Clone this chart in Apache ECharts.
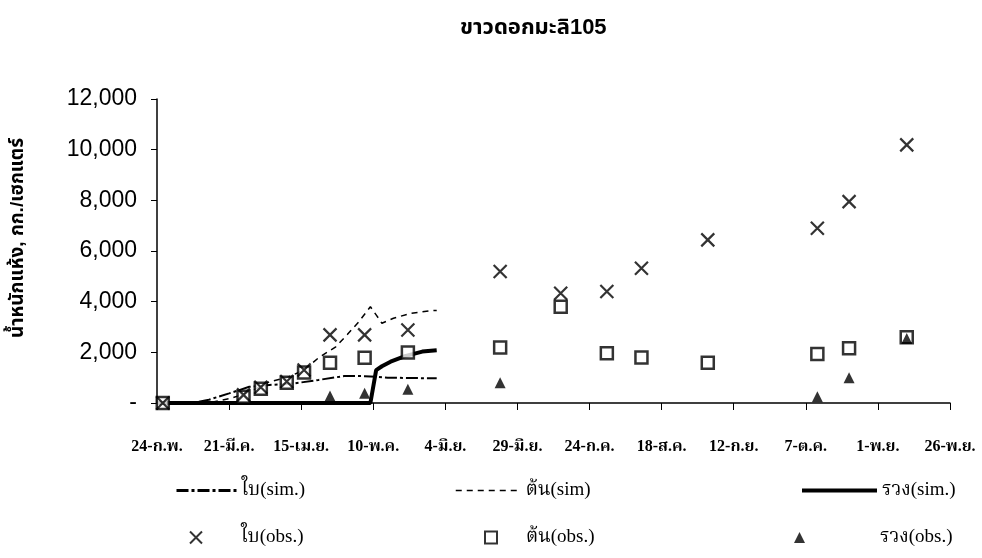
<!DOCTYPE html>
<html>
<head>
<meta charset="utf-8">
<script src="https://cdn.jsdelivr.net/npm/echarts@6/dist/echarts.min.js"></script>
<style>
  html, body { margin: 0; padding: 0; background: #fff; }
  #chart { width: 982px; height: 558px; }
</style>
</head>
<body>
<div id="chart"></div>
<script>
// Date ticks every 25 days starting 24 Feb (x values are days after 24-ก.พ.)
const tickLabels = ['24-ก.พ.', '21-มี.ค.', '15-เม.ย.', '10-พ.ค.', '4-มิ.ย.', '29-มิ.ย.',
                    '24-ก.ค.', '18-ส.ค.', '12-ก.ย.', '7-ต.ค.', '1-พ.ย.', '26-พ.ย.'];

// Simulated dry weight (kg/ha)
const leafSimDays   = [0, 12, 18, 25, 32, 39, 48, 56, 65, 72, 76, 80, 88, 97];
const leafSimValues = [0, 0, 130, 380, 640, 710, 780, 910, 1065, 1060, 1040, 1000, 985, 975];

const stemSimDays   = [0, 18, 22, 26, 30, 35, 39, 45, 51, 56, 62, 66, 70, 74, 76, 78, 82, 88, 95, 97];
const stemSimValues = [0, 0, 100, 200, 350, 600, 840, 1000, 1300, 1780, 2220, 2700, 3210, 3800, 3480, 3150, 3345, 3540, 3645, 3650];

const panicleSimDays   = [0, 60, 74, 76, 78, 81, 86, 92, 97];
const panicleSimValues = [0, 0, 0, 1300, 1450, 1630, 1850, 2030, 2080];

// Observed dry weight (kg/ha)
const obsDays       = [2, 30, 36, 45, 51, 60, 72, 87, 119, 140, 156, 168, 191, 229, 240, 260];
const leafObs       = [0, 320, 620, 850, 1300, 2690, 2690, 2880, 5190, 4330, 4400, 5320, 6440, 6900, 7950, 10190];
const stemObs       = [0, 250, 560, 800, 1200, 1590, 1790, 1990, 2190, 3800, 1960, 1800, 1590, 1930, 2160, 2600];
const panicleObs    = [null, null, null, null, null, 275, 380, 540, 800, null, null, null, null, 250, 1000, 2550];

const pairs = (xs, ys) => xs.map((x, i) => [x, ys[i]]).filter(p => p[1] !== null);

const thaiSerif = '"Liberation Serif", "DejaVu Serif", "Noto Serif Thai", "Noto Sans Thai", serif';
const thaiSans = '"Liberation Sans", "Noto Sans Thai", "Noto Sans", sans-serif';

const chart = echarts.init(document.getElementById('chart'));

// One legend block per entry so each sits at its own spot in the two-row key
function legendAt(name, left, top, itemWidth, itemHeight, textPad, lineWidth) {
  const lg = {
    data: [name], left: left, top: top, orient: 'horizontal',
    itemWidth: itemWidth, itemHeight: itemHeight, padding: 0,
    selectedMode: false,
    textStyle: { fontFamily: thaiSerif, fontSize: 19, color: '#000', padding: [0, 0, 0, textPad] }
  };
  if (lineWidth) {
    lg.itemStyle = { color: 'rgba(0,0,0,0)', borderWidth: 0, opacity: 0 };
    lg.lineStyle = { width: lineWidth };
  }
  return lg;
}

const crossPath = 'path://M0,0L10,10M10,0L0,10';

chart.setOption({
  animation: false,
  backgroundColor: '#fff',
  title: {
    text: 'ขาวดอกมะลิ105',
    left: 455, top: 12,
    textStyle: { fontFamily: thaiSans, fontSize: 22, fontWeight: 'bold', color: '#000' }
  },
  grid: { left: 157, right: 32, top: 99, bottom: 155, containLabel: false },
  xAxis: {
    type: 'value', min: 0, max: 275, interval: 25,
    axisLine: { show: true, onZero: false, lineStyle: { color: '#000', width: 1.5 } },
    axisTick: { show: true, inside: false, length: 7, lineStyle: { color: '#000', width: 1 } },
    splitLine: { show: false },
    axisLabel: {
      margin: 36, color: '#000', fontFamily: thaiSerif, fontSize: 16, fontWeight: 'bold',
      formatter: v => tickLabels[Math.round(v / 25)] || ''
    }
  },
  yAxis: {
    type: 'value', min: 0, max: 12000, interval: 2000,
    name: 'น้ำหนักแห้ง, กก./เฮกแตร์',
    nameLocation: 'middle', nameGap: 130, nameRotate: 90,
    nameTextStyle: { fontFamily: thaiSans, fontSize: 19, fontWeight: 'bold', color: '#000', padding: [0, 0, 0, 26] },
    axisLine: { show: true, lineStyle: { color: '#000', width: 1.5 } },
    axisTick: { show: true, inside: false, length: 6, lineStyle: { color: '#000', width: 1 } },
    splitLine: { show: false },
    axisLabel: {
      margin: 20, color: '#000', fontFamily: '"Liberation Sans", Arial, sans-serif', fontSize: 23,
      formatter: v => v === 0 ? '-' : v.toLocaleString('en-US')
    }
  },
  legend: [
    legendAt('ใบ(sim.)', 175, 481, 60, 14, 0, 3),
    legendAt('ต้น(sim)', 455, 481, 65, 14, 0, 1.5),
    legendAt('รวง(sim.)', 800, 481, 75, 14, 0, 4),
    legendAt('ใบ(obs.)', 189, 528, 12, 12, 34, 0),
    legendAt('ต้น(obs.)', 484, 528, 12, 12, 24, 0),
    legendAt('รวง(obs.)', 794, 528, 11, 11, 70, 0)
  ],
  series: [
    {
      name: 'ใบ(sim.)', type: 'line', data: pairs(leafSimDays, leafSimValues),
      symbol: 'none',
      lineStyle: { color: '#000', width: 2, type: [12, 3, 3, 3] }, z: 2
    },
    {
      name: 'ต้น(sim)', type: 'line', data: pairs(stemSimDays, stemSimValues),
      symbol: 'none',
      lineStyle: { color: '#000', width: 1.5, type: [6, 5] }, z: 2
    },
    {
      name: 'รวง(sim.)', type: 'line', data: pairs(panicleSimDays, panicleSimValues),
      symbol: 'none',
      lineStyle: { color: '#000', width: 4 }, z: 3
    },
    {
      name: 'ใบ(obs.)', type: 'scatter', data: pairs(obsDays, leafObs),
      symbol: crossPath, symbolSize: 13,
      itemStyle: { color: 'rgba(0,0,0,0)', borderColor: '#000', borderWidth: 2.2 }, z: 5
    },
    {
      name: 'ต้น(obs.)', type: 'scatter', data: pairs(obsDays, stemObs),
      symbol: 'rect', symbolSize: 12,
      itemStyle: { color: '#fff', borderColor: '#000', borderWidth: 2.5 }, z: 4
    },
    {
      name: 'รวง(obs.)', type: 'scatter', data: pairs(obsDays, panicleObs),
      symbol: 'triangle', symbolSize: 11,
      itemStyle: { color: '#000' }, z: 6
    }
  ]
});
</script>
</body>
</html>
